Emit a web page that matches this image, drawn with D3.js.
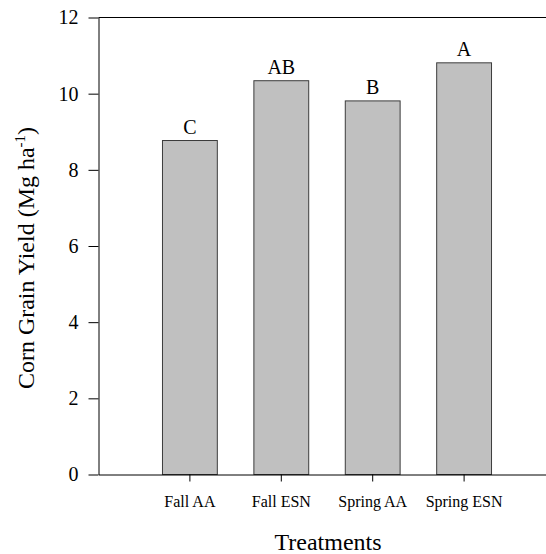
<!DOCTYPE html>
<style>
body { margin: 0; }
svg { display: block; font-family: "Liberation Serif", "Times New Roman", serif; }
</style>
<svg width="546" height="554"></svg>
<script src="https://d3js.org/d3.v7.min.js"></script>
<script>
const treatments = ["Fall AA", "Fall ESN", "Spring AA", "Spring ESN"];
const yieldValues = [8.77, 10.34, 9.81, 10.81];
const letters = ["C", "AB", "B", "A"];
const yTicks = [0, 2, 4, 6, 8, 10, 12];

const serif = "'Liberation Serif', 'Times New Roman', serif";

const svg = d3.select("svg"),
      g = svg.append("g");

const xScale = d3.scaleBand()
      .domain(treatments)
      .range([98.5, 555.5])
      .paddingInner(0.4)
      .paddingOuter(0.7),
      yScale = d3.scaleLinear().domain([0, 12]).range([474.5, 17.5]);

const xAxis = d3.axisBottom(xScale).tickSizeInner(7).tickSizeOuter(0).tickPadding(14),
      yAxis = d3.axisLeft(yScale).tickValues(yTicks).tickSizeInner(10).tickSizeOuter(0).tickPadding(10);

// bars
g.append("g")
	.selectAll("rect")
	.data(treatments)
	.enter()
	.append("rect")
	.attr("x", (d) => xScale(d))
	.attr("width", xScale.bandwidth())
	.attr("y", (d, i) => yScale(yieldValues[i]))
	.attr("height", (d, i) => yScale(0) - yScale(yieldValues[i]))
	.attr("fill", "#c0c0c0")
	.attr("stroke", "#3c3c3c")
	.attr("stroke-width", 1);

// significance letters
g.append("g")
	.selectAll("text")
	.data(treatments)
	.enter()
	.append("text")
	.attr("x", (d) => xScale(d) + xScale.bandwidth() / 2)
	.attr("y", (d, i) => yScale(yieldValues[i]) - 7)
	.attr("text-anchor", "middle")
	.style("font-size", "20px")
	.text((d, i) => letters[i]);

// top frame line
g.append("line")
	.attr("x1", xScale.range()[0])
	.attr("x2", xScale.range()[1])
	.attr("y1", yScale(12))
	.attr("y2", yScale(12))
	.attr("stroke", "#000");

const ya = g.append("g")
	.attr("transform", "translate(" + xScale.range()[0] + ",0)")
	.call(yAxis)
	.attr("font-family", serif)
	.attr("font-size", 20);
ya.selectAll("text").attr("fill", "#000");
ya.selectAll("line,path").attr("stroke", "#000");

const xa = g.append("g")
	.attr("transform", "translate(0," + yScale(0) + ")")
	.call(xAxis)
	.attr("font-family", serif)
	.attr("font-size", 16);
xa.selectAll("text").attr("fill", "#000");
xa.selectAll("line,path").attr("stroke", "#000");

// x axis label
g.append("text")
	.attr("x", 328)
	.attr("y", 550)
	.attr("text-anchor", "middle")
	.style("font-size", "24px")
	.text("Treatments");

// y axis label
const yl = g.append("text")
	.attr("transform", "rotate(-90)")
	.attr("x", -258)
	.attr("y", 34)
	.attr("text-anchor", "middle")
	.style("font-size", "24px");
yl.append("tspan").text("Corn Grain Yield (Mg ha");
yl.append("tspan").attr("dy", -9).style("font-size", "15px").text("-1");
yl.append("tspan").attr("dy", 9).text(")");
</script>
